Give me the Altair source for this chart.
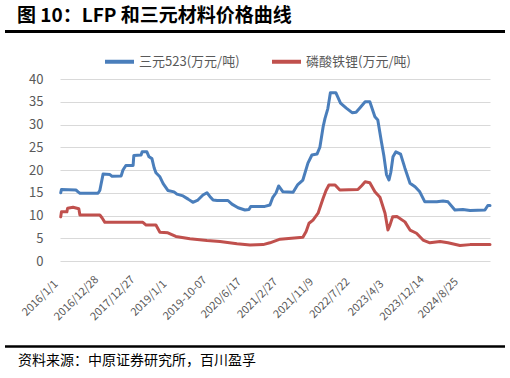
import json
import altair as alt
import pandas as pd

FONT = "Noto Sans CJK SC"

title_text = "图 10：LFP 和三元材料价格曲线"
source_text = "资料来源：中原证券研究所，百川盈孚"
series_names = ["三元523(万元/吨)", "磷酸铁锂(万元/吨)"]
series_colors = ["#4A7EBB", "#C0504D"]

tick_labels = ["2016/1/1", "2016/12/28", "2017/12/27", "2019/1/1", "2019-10-07",
               "2020/6/17", "2021/2/27", "2021/11/9", "2022/7/22", "2023/4/3",
               "2023/12/14", "2024/8/25"]

# positions in units of label intervals (category axis)
ncm_pos = [0.02, 0.04, 0.44, 0.50, 0.55, 1.05, 1.10, 1.19, 1.38, 1.44, 1.69, 1.74, 1.82,
           2.02, 2.04, 2.24, 2.27, 2.40, 2.46, 2.54, 2.60, 2.65, 2.76, 2.85, 2.98, 3.15,
           3.23, 3.40, 3.54, 3.67, 3.81, 3.95, 4.06, 4.14, 4.23, 4.34, 4.64, 4.75, 4.92,
           5.11, 5.22, 5.27, 5.66, 5.80, 5.88, 5.97, 6.04, 6.16, 6.44, 6.57, 6.71, 6.85,
           6.96, 7.10, 7.18, 7.27, 7.32, 7.40, 7.47, 7.62, 7.75, 7.91, 8.07, 8.18, 8.29,
           8.43, 8.56, 8.70, 8.78, 8.88, 8.95, 9.02, 9.09, 9.14, 9.20, 9.28, 9.41, 9.53,
           9.67, 9.81, 9.94, 10.08, 10.41, 10.58, 10.72, 10.91, 11.13, 11.33, 11.74,
           11.82, 11.88]
ncm_val = [15.0, 15.7, 15.6, 15.2, 14.9, 14.9, 15.5, 19.1, 19.0, 18.6, 18.7, 20.0, 21.0,
           21.0, 23.2, 23.3, 24.0, 24.0, 22.9, 22.5, 20.5, 19.4, 18.5, 17.0, 15.5, 15.2,
           14.7, 14.3, 13.6, 12.9, 13.4, 14.5, 15.0, 14.2, 13.4, 13.3, 13.3, 12.5, 11.7,
           11.2, 11.3, 12.0, 12.0, 12.3, 14.0, 15.0, 16.5, 15.2, 15.1, 16.8, 17.8, 21.5,
           23.3, 23.5, 25.0, 29.5, 31.3, 33.5, 37.0, 37.0, 34.7, 33.6, 32.6, 32.7, 33.7,
           35.0, 35.0, 31.7, 31.0, 26.2, 23.0, 19.0, 17.8, 19.5, 22.9, 24.0, 23.5, 20.4,
           17.1, 16.3, 15.2, 13.0, 13.0, 13.2, 13.0, 11.2, 11.3, 11.1, 11.2,
           12.2, 12.2]

lfp_pos = [0.02, 0.04, 0.19, 0.21, 0.36, 0.52, 0.55, 1.10, 1.16, 1.24, 2.29, 2.38, 2.65,
           2.76, 2.98, 3.20, 3.59, 4.06, 4.42, 4.89, 5.25, 5.61, 5.80, 6.08, 6.71, 6.80,
           6.88, 6.99, 7.13, 7.27, 7.35, 7.43, 7.60, 7.73, 8.23, 8.34, 8.43, 8.56, 8.70,
           8.84, 8.98, 9.06, 9.12, 9.19, 9.31, 9.53, 9.67, 9.85, 10.03, 10.22, 10.50,
           10.72, 11.05, 11.33, 11.88]
lfp_val = [9.7, 10.8, 10.8, 11.6, 11.8, 11.5, 10.1, 10.1, 9.5, 8.5, 8.5, 7.9, 7.9,
           6.3, 6.2, 5.4, 4.9, 4.5, 4.3, 3.8, 3.5, 3.6, 4.0, 4.8, 5.2, 6.5,
           8.3, 9.0, 10.5, 13.8, 15.5, 16.7, 16.7, 15.6, 15.7, 16.6, 17.4, 17.2, 15.2,
           14.0, 10.5, 6.8, 8.0, 9.7, 9.8, 8.6, 6.8, 6.1, 4.6, 4.0, 4.3,
           4.0, 3.4, 3.6, 3.6]

df = pd.concat([
    pd.DataFrame({"pos": ncm_pos, "value": ncm_val, "series": series_names[0], "order": range(len(ncm_pos))}),
    pd.DataFrame({"pos": lfp_pos, "value": lfp_val, "series": series_names[1], "order": range(len(lfp_pos))}),
])

label_expr = json.dumps(tick_labels, ensure_ascii=False) + "[datum.value]"

lines = alt.Chart(df).mark_line(strokeWidth=3, strokeJoin="round", strokeCap="round").encode(
    x=alt.X("pos:Q",
            scale=alt.Scale(domain=[0, 11.88], nice=False, zero=False),
            axis=alt.Axis(values=list(range(len(tick_labels))), labelExpr=label_expr,
                          labelAngle=-45, labelAlign="center", labelBaseline="middle",
                          labelFont=FONT, labelFontSize=11,
                          labelColor="#595959", ticks=False, domain=False, grid=False,
                          labelPadding=37, labelOffset=-20, title=None,
                          labelOverlap=False, labelBound=False)),
    y=alt.Y("value:Q",
            scale=alt.Scale(domain=[0, 40], nice=False),
            axis=alt.Axis(values=list(range(0, 41, 5)), labelFont=FONT, labelFontSize=13,
                          labelColor="#595959", ticks=False, domain=False,
                          gridColor="#D9D9D9", gridWidth=1, labelPadding=17, title=None)),
    color=alt.Color("series:N",
                    scale=alt.Scale(domain=series_names, range=series_colors),
                    legend=alt.Legend(orient="none", legendX=43, legendY=-34,
                                      direction="horizontal", title=None,
                                      symbolType="stroke", symbolSize=841,
                                      symbolStrokeWidth=4, labelFont=FONT,
                                      labelFontSize=13, labelColor="#595959",
                                      labelOffset=3, columnPadding=24)),
    order="order:Q",
    detail="series:N",
)

one = pd.DataFrame({"a": [0]})

title = alt.Chart(one).mark_text(text=title_text, font=FONT, fontSize=19, fontWeight="bold",
                                 align="left", baseline="middle", color="#000000").encode(
    x=alt.value(17 - 60), y=alt.value(16 - 79))

top_rule = alt.Chart(one).mark_rule(color="#000000", strokeWidth=3).encode(
    x=alt.value(5 - 60), x2=alt.value(505 - 60), y=alt.value(31.5 - 79))

bottom_rule = alt.Chart(one).mark_rule(color="#000000", strokeWidth=2.5).encode(
    x=alt.value(5 - 60), x2=alt.value(505 - 60), y=alt.value(346.5 - 79))

source = alt.Chart(one).mark_text(text=source_text, font=FONT, fontSize=14,
                                  align="left", baseline="middle", color="#000000").encode(
    x=alt.value(18 - 60), y=alt.value(361 - 79))

chart = alt.layer(lines, title, top_rule, bottom_rule, source).properties(
    width=430, height=182,
    autosize=alt.AutoSizeParams(type="none"),
    padding={"left": 60, "top": 79, "right": 20, "bottom": 117},
    background="#FFFFFF",
).configure_view(stroke=None)

chart.save("out.html", embed_options={"renderer": "svg", "actions": False})
